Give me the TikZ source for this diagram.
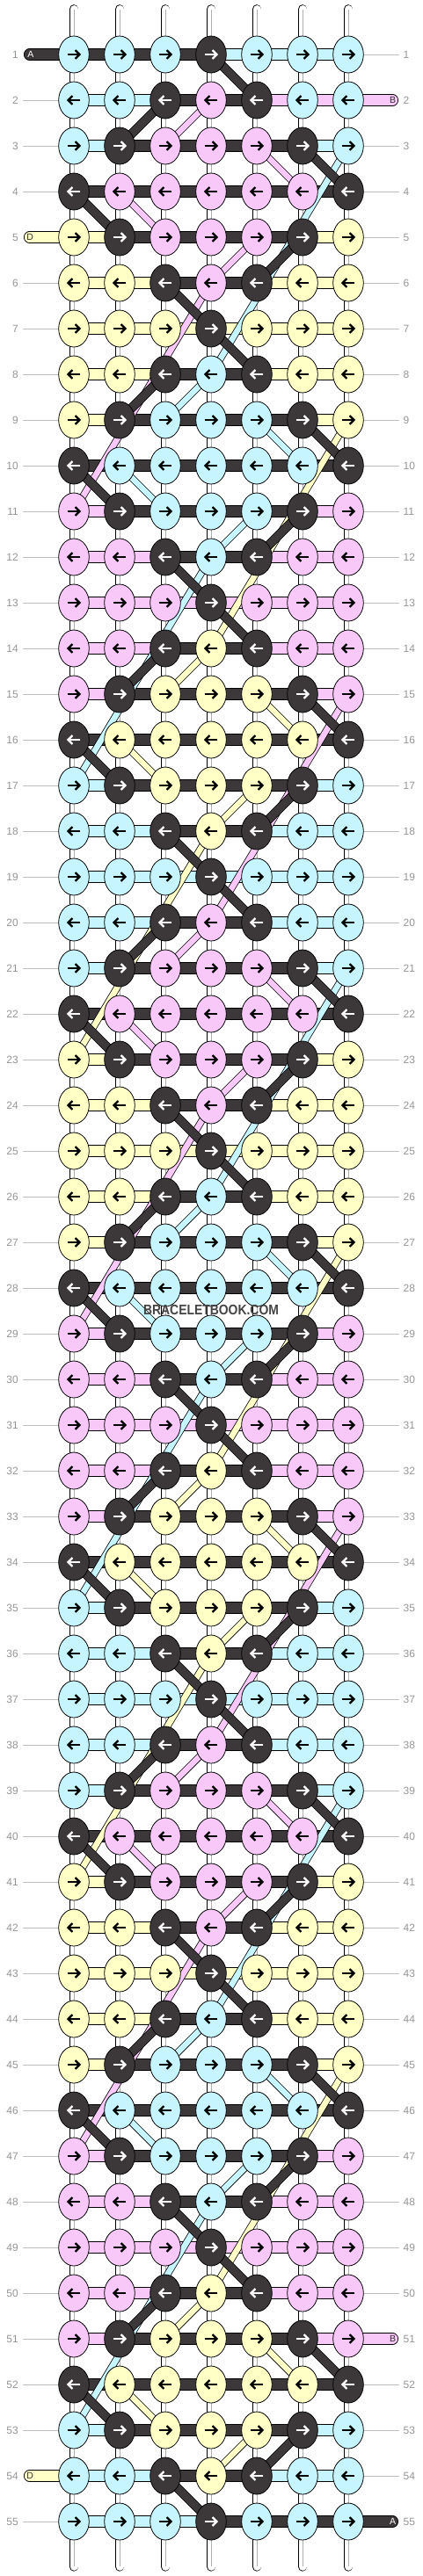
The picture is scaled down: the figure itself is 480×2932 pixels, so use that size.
\documentclass[tikz,border=0pt]{standalone}
\usepackage{fontspec}
\setmainfont{Liberation Sans}
\usetikzlibrary{shapes.geometric}
\definecolor{cC}{RGB}{198,244,255}
\definecolor{cP}{RGB}{248,200,248}
\definecolor{cY}{RGB}{255,255,198}
\definecolor{cK}{RGB}{60,56,58}
\definecolor{aC}{RGB}{0,0,0}
\definecolor{aP}{RGB}{0,0,0}
\definecolor{aY}{RGB}{0,0,0}
\definecolor{aK}{RGB}{255,255,255}
\definecolor{lblgray}{RGB}{150,150,150}
\definecolor{edgegray}{RGB}{190,190,190}
\definecolor{basegray}{RGB}{175,175,175}
\definecolor{wmgray}{RGB}{68,68,68}
\definecolor{lettergray}{RGB}{50,50,50}
\pgfdeclarelayer{lbase}
\pgfdeclarelayer{lhor}
\pgfdeclarelayer{llong}
\pgfdeclarelayer{ldark}
\pgfsetlayers{lbase,lhor,llong,ldark,main}
\begin{document}
\begin{tikzpicture}[x=1pt,y=1pt,
  knotsty/.style={ellipse, draw=black, line width=0.8pt, minimum width=34.6pt, minimum height=42pt, inner sep=0pt},
  hseg/.style={draw=black, double=#1, double distance=11.6pt, line width=0.85pt},
  cdiag/.style={draw=black, double=#1, double distance=6.6pt, line width=0.75pt},
  ddiag/.style={draw=black, double=cK, double distance=9pt, line width=0.75pt},
  basestr/.style={draw=black, double=white, double distance=9pt, line width=0.85pt, line cap=round},
  basemid/.style={draw=basegray, line width=0.8pt},
  edgeline/.style={draw=edgegray, line width=0.9pt},
  rowlbl/.style={text=lblgray, font=\fontsize{12}{12}\selectfont, inner sep=0pt},
  endlbl/.style={font=\fontsize{10.5}{10.5}\selectfont, inner sep=0pt},
  arrw/.style={draw=#1, line width=2.3pt, line cap=butt, line join=miter}]
\useasboundingbox (0,0) rectangle (480,-2932);
\begin{pgfonlayer}{lbase}
\fill[white] (0,0) rectangle (480,-2932);
\foreach \i in {1,...,7}{
  \pgfmathsetmacro\xx{84+52*(\i-1)}
  \coordinate (top\i) at (\xx,-10.5);
  \coordinate (bot\i) at (\xx,-2921.3);
  \draw[basestr] (top\i) -- (bot\i);
  \draw[basemid] (top\i) -- (bot\i);
}
\end{pgfonlayer}
\foreach \r/\kn/\sg in {
 1/{C,C,C,K,C,C,C}/{K,K,K,C,C,C},
 2/{C,C,K,P,K,C,C}/{C,C,K,K,P,P},
 3/{C,K,P,P,P,K,C}/{C,K,K,K,K,C},
 4/{K,P,P,P,P,P,K}/{K,K,K,K,K,K},
 5/{Y,K,P,P,P,K,Y}/{Y,K,K,K,K,Y},
 6/{Y,Y,K,P,K,Y,Y}/{Y,Y,K,K,Y,Y},
 7/{Y,Y,Y,K,Y,Y,Y}/{Y,Y,Y,Y,Y,Y},
 8/{Y,Y,K,C,K,Y,Y}/{Y,Y,K,K,Y,Y},
 9/{Y,K,C,C,C,K,Y}/{Y,K,K,K,K,Y},
 10/{K,C,C,C,C,C,K}/{K,K,K,K,K,K},
 11/{P,K,C,C,C,K,P}/{P,K,K,K,K,P},
 12/{P,P,K,C,K,P,P}/{P,P,K,K,P,P},
 13/{P,P,P,K,P,P,P}/{P,P,P,P,P,P},
 14/{P,P,K,Y,K,P,P}/{P,P,K,K,P,P},
 15/{P,K,Y,Y,Y,K,P}/{P,K,K,K,K,P},
 16/{K,Y,Y,Y,Y,Y,K}/{K,K,K,K,K,K},
 17/{C,K,Y,Y,Y,K,C}/{C,K,K,K,K,C},
 18/{C,C,K,Y,K,C,C}/{C,C,K,K,C,C},
 19/{C,C,C,K,C,C,C}/{C,C,C,C,C,C},
 20/{C,C,K,P,K,C,C}/{C,C,K,K,C,C},
 21/{C,K,P,P,P,K,C}/{C,K,K,K,K,C},
 22/{K,P,P,P,P,P,K}/{K,K,K,K,K,K},
 23/{Y,K,P,P,P,K,Y}/{Y,K,K,K,K,Y},
 24/{Y,Y,K,P,K,Y,Y}/{Y,Y,K,K,Y,Y},
 25/{Y,Y,Y,K,Y,Y,Y}/{Y,Y,Y,Y,Y,Y},
 26/{Y,Y,K,C,K,Y,Y}/{Y,Y,K,K,Y,Y},
 27/{Y,K,C,C,C,K,Y}/{Y,K,K,K,K,Y},
 28/{K,C,C,C,C,C,K}/{K,K,K,K,K,K},
 29/{P,K,C,C,C,K,P}/{P,K,K,K,K,P},
 30/{P,P,K,C,K,P,P}/{P,P,K,K,P,P},
 31/{P,P,P,K,P,P,P}/{P,P,P,P,P,P},
 32/{P,P,K,Y,K,P,P}/{P,P,K,K,P,P},
 33/{P,K,Y,Y,Y,K,P}/{P,K,K,K,K,P},
 34/{K,Y,Y,Y,Y,Y,K}/{K,K,K,K,K,K},
 35/{C,K,Y,Y,Y,K,C}/{C,K,K,K,K,C},
 36/{C,C,K,Y,K,C,C}/{C,C,K,K,C,C},
 37/{C,C,C,K,C,C,C}/{C,C,C,C,C,C},
 38/{C,C,K,P,K,C,C}/{C,C,K,K,C,C},
 39/{C,K,P,P,P,K,C}/{C,K,K,K,K,C},
 40/{K,P,P,P,P,P,K}/{K,K,K,K,K,K},
 41/{Y,K,P,P,P,K,Y}/{Y,K,K,K,K,Y},
 42/{Y,Y,K,P,K,Y,Y}/{Y,Y,K,K,Y,Y},
 43/{Y,Y,Y,K,Y,Y,Y}/{Y,Y,Y,Y,Y,Y},
 44/{Y,Y,K,C,K,Y,Y}/{Y,Y,K,K,Y,Y},
 45/{Y,K,C,C,C,K,Y}/{Y,K,K,K,K,Y},
 46/{K,C,C,C,C,C,K}/{K,K,K,K,K,K},
 47/{P,K,C,C,C,K,P}/{P,K,K,K,K,P},
 48/{P,P,K,C,K,P,P}/{P,P,K,K,P,P},
 49/{P,P,P,K,P,P,P}/{P,P,P,P,P,P},
 50/{P,P,K,Y,K,P,P}/{P,P,K,K,P,P},
 51/{P,K,Y,Y,Y,K,P}/{P,K,K,K,K,P},
 52/{K,Y,Y,Y,Y,Y,K}/{K,K,K,K,K,K},
 53/{C,K,Y,Y,Y,K,C}/{C,K,K,K,K,C},
 54/{C,C,K,Y,K,C,C}/{C,C,K,K,C,C},
 55/{C,C,C,K,C,C,C}/{C,C,C,K,K,K}}{
  \pgfmathsetmacro\yy{-62-52*(\r-1)}
  \pgfmathsetmacro\dir{ifthenelse(mod(\r,2)==1,1,-1)}
  \foreach \c [count=\i] in \kn {
    \node[knotsty, fill=c\c] (k\r-\i) at ({84+52*(\i-1)},\yy) {};
    \begin{scope}[shift={(k\r-\i.center)}, xscale=\dir]
      \draw[arrw=a\c] (-7.3,0) -- (6,0);
      \draw[arrw=a\c] (1.6,4.9) -- (6.5,0) -- (1.6,-4.9);
    \end{scope}
  }
  \begin{pgfonlayer}{lhor}
  \foreach \s [count=\i] in \sg {
    \pgfmathtruncatemacro\j{\i+1}
    \draw[hseg=c\s] (k\r-\i.center) -- (k\r-\j.center);
  }
  \end{pgfonlayer}
  \pgfmathtruncatemacro\skipL{(\r==1)||(\r==5)||(\r==54)}
  \pgfmathtruncatemacro\skipR{(\r==2)||(\r==51)||(\r==55)}
  \begin{pgfonlayer}{lbase}
  \ifnum\skipL=0
    \coordinate (L\r) at (26,\yy);
    \draw[edgeline] (L\r) -- (k\r-1.center);
  \fi
  \ifnum\skipR=0
    \coordinate (R\r) at (454,\yy);
    \draw[edgeline] (k\r-7.center) -- (R\r);
  \fi
  \end{pgfonlayer}
  \node[rowlbl, anchor=east] (ll\r) at (21,\yy) {\r};
  \node[rowlbl, anchor=west] (rl\r) at (458.5,\yy) {\r};
}
% entering and leaving strings
\begin{pgfonlayer}{lhor}
\coordinate (Ain) at (33.6,-62);
\draw[hseg=cK, line cap=round] (k1-1.center) -- (Ain);
\coordinate (Bin) at (446.4,-114);
\draw[hseg=cP, line cap=round] (k2-7.center) -- (Bin);
\coordinate (Din) at (33.6,-270);
\draw[hseg=cY, line cap=round] (k5-1.center) -- (Din);
\coordinate (Bout) at (446.4,-2662);
\draw[hseg=cP, line cap=round] (k51-7.center) -- (Bout);
\coordinate (Dout) at (33.6,-2818);
\draw[hseg=cY, line cap=round] (k54-1.center) -- (Dout);
\coordinate (Aout) at (446.4,-2870);
\draw[hseg=cK, line cap=round] (k55-7.center) -- (Aout);
\end{pgfonlayer}
\node[endlbl, text=white] (Ainl) at (35,-62) {A};
\node[endlbl, text=lettergray] (Binl) at (446.7,-114) {B};
\node[endlbl, text=lettergray] (Dinl) at (34.2,-270) {D};
\node[endlbl, text=lettergray] (Boutl) at (446.7,-2662) {B};
\node[endlbl, text=lettergray] (Doutl) at (34.2,-2818) {D};
\node[endlbl, text=white] (Aoutl) at (446.7,-2870) {A};
% long carried strings and short colored diagonals
\begin{pgfonlayer}{llong}
\foreach \k/\ci/\co in {0/P/C,1/C/Y,2/Y/P,3/P/C,4/C/Y,5/Y/P,6/P/C,7/C/Y}{
  \pgfmathtruncatemacro\ra{6*\k+6}
  \pgfmathtruncatemacro\rb{6*\k+11}
  \pgfmathtruncatemacro\rc{6*\k+3}
  \pgfmathtruncatemacro\rd{6*\k+8}
  \draw[cdiag=c\ci] (k\ra-4.center) -- (k\rb-1.center);
  \draw[cdiag=c\co] (k\rc-7.center) -- (k\rd-4.center);
}
\foreach \k/\ci in {0/P,1/C,2/Y,3/P,4/C,5/Y,6/P,7/C,8/Y}{
  \pgfmathtruncatemacro\ra{6*\k+2}
  \pgfmathtruncatemacro\rb{6*\k+3}
  \pgfmathtruncatemacro\rc{6*\k+4}
  \pgfmathtruncatemacro\rd{6*\k+5}
  \pgfmathtruncatemacro\re{6*\k+6}
  \draw[cdiag=c\ci] (k\ra-4.center) -- (k\rb-3.center);
  \draw[cdiag=c\ci] (k\rb-5.center) -- (k\rc-6.center);
  \draw[cdiag=c\ci] (k\rc-2.center) -- (k\rd-3.center);
  \draw[cdiag=c\ci] (k\rd-5.center) -- (k\re-4.center);
}
\end{pgfonlayer}
% dark string diagonals
\begin{pgfonlayer}{ldark}
\foreach \d/\a/\b in {0/4/5,1/3/2,2/6/7,3/1/2,4/6/5,5/3/4}{
  \foreach \k in {0,...,8}{
    \pgfmathtruncatemacro\ra{6*\k+1+\d}
    \pgfmathtruncatemacro\rb{\ra+1}
    \draw[ddiag] (k\ra-\a.center) -- (k\rb-\b.center);
  }
}
\end{pgfonlayer}
\node[font=\bfseries\fontsize{16}{16}\selectfont, text=wmgray, inner sep=0pt, xscale=0.87] (wm) at (240,-1491) {BRACELETBOOK.COM};
\end{tikzpicture}
\end{document}
